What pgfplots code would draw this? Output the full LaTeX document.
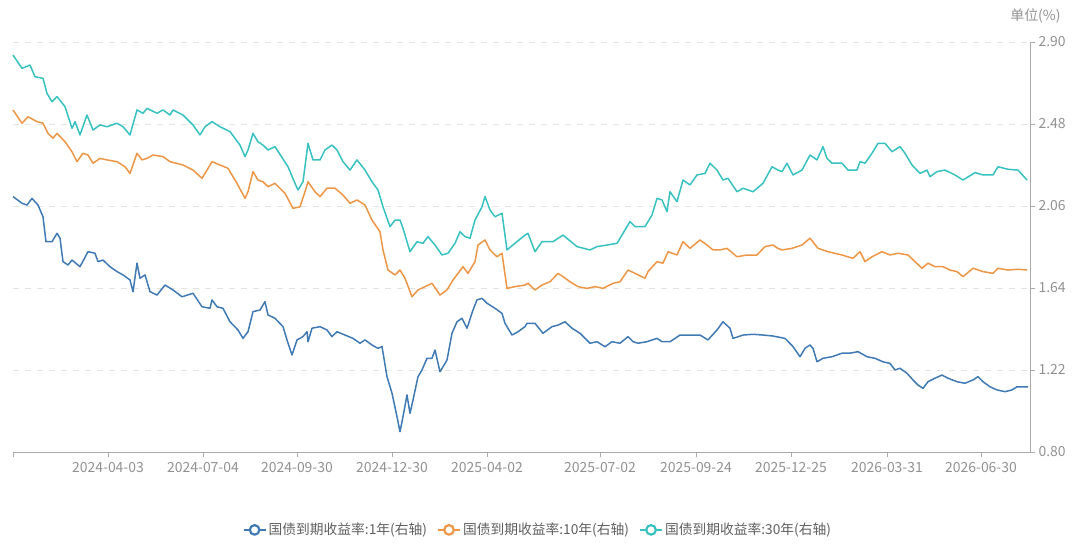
\documentclass[border=0pt]{standalone}
\usepackage{fontspec}
\setmainfont{Noto Sans CJK SC}
\usepackage{pgfplots}
\usepackage{pgfplotstable}
\pgfplotsset{compat=1.18}
\definecolor{c1}{RGB}{64,122,180}
\definecolor{c2}{RGB}{237,150,70}
\definecolor{c3}{RGB}{55,193,192}
\definecolor{tk}{RGB}{145,145,145}
\definecolor{ax}{RGB}{170,170,170}
\definecolor{gr}{RGB}{228,228,228}
\definecolor{lg}{RGB}{95,95,95}

\pgfplotstableread{
x y
0 2.108
9 2.074
14 2.065
19 2.099
25 2.065
30 2.005
33 1.877
39 1.877
44 1.920
47 1.895
50 1.775
55 1.758
59 1.783
67 1.749
75 1.826
82 1.818
85 1.775
90 1.783
97 1.749
104 1.724
110 1.707
117 1.681
120 1.621
124 1.767
127 1.690
132 1.707
137 1.621
144 1.604
152 1.655
160 1.630
169 1.595
180 1.613
189 1.544
197 1.536
199 1.579
204 1.544
210 1.536
217 1.467
225 1.425
230 1.382
235 1.416
240 1.519
247 1.527
252 1.570
255 1.502
262 1.485
270 1.442
274 1.374
279 1.297
284 1.374
290 1.391
294 1.416
295 1.365
299 1.434
307 1.442
314 1.425
319 1.391
324 1.416
332 1.399
340 1.382
347 1.357
352 1.374
359 1.348
365 1.331
369 1.340
374 1.186
379 1.101
384 0.981
387 0.904
390 0.981
394 1.092
397 0.998
400 1.066
405 1.186
409 1.220
414 1.280
419 1.280
422 1.322
427 1.211
434 1.271
439 1.408
444 1.467
449 1.485
454 1.434
460 1.527
464 1.579
469 1.587
474 1.562
482 1.536
489 1.510
492 1.459
499 1.399
505 1.416
512 1.442
514 1.459
522 1.459
530 1.408
539 1.442
545 1.450
552 1.467
559 1.434
567 1.408
577 1.357
584 1.365
592 1.339
599 1.365
607 1.357
615 1.391
620 1.365
625 1.357
634 1.365
644 1.382
649 1.365
657 1.365
667 1.399
677 1.399
687 1.399
695 1.374
704 1.425
710 1.467
717 1.434
720 1.382
730 1.399
740 1.403
750 1.399
760 1.394
772 1.382
780 1.340
787 1.288
792 1.331
797 1.348
800 1.331
804 1.262
810 1.280
819 1.288
829 1.306
837 1.306
845 1.314
854 1.288
862 1.280
870 1.262
877 1.254
882 1.220
887 1.229
894 1.203
900 1.169
905 1.143
910 1.126
915 1.160
922 1.178
929 1.194
935 1.178
944 1.160
952 1.152
960 1.169
965 1.186
970 1.160
977 1.134
984 1.118
992 1.109
999 1.118
1004 1.134
1010 1.134
1015 1.134
}\oneyr

\pgfplotstableread{
x y
0 2.552
9 2.484
15 2.517
24 2.492
30 2.484
35 2.432
40 2.407
44 2.432
52 2.389
59 2.338
64 2.287
70 2.330
75 2.321
80 2.279
87 2.304
94 2.296
104 2.287
112 2.261
117 2.227
124 2.330
129 2.296
134 2.304
140 2.321
150 2.313
157 2.287
170 2.270
180 2.244
189 2.202
194 2.244
199 2.287
207 2.270
215 2.253
224 2.176
232 2.099
235 2.133
240 2.236
245 2.193
250 2.184
255 2.159
262 2.176
272 2.125
280 2.048
287 2.056
292 2.133
295 2.184
302 2.133
307 2.108
314 2.151
322 2.151
330 2.116
337 2.074
344 2.091
352 2.065
359 1.988
367 1.928
370 1.835
375 1.732
382 1.707
387 1.732
392 1.690
399 1.595
405 1.630
412 1.647
419 1.664
427 1.604
434 1.630
440 1.681
445 1.715
450 1.749
455 1.715
462 1.775
465 1.860
472 1.886
477 1.835
484 1.800
489 1.818
494 1.638
502 1.647
512 1.655
515 1.664
522 1.630
529 1.655
537 1.672
545 1.715
550 1.698
557 1.672
565 1.647
574 1.638
582 1.647
590 1.638
600 1.664
607 1.672
615 1.732
622 1.715
632 1.690
635 1.724
644 1.775
650 1.767
655 1.826
664 1.809
670 1.877
677 1.843
687 1.886
694 1.860
700 1.835
707 1.835
714 1.843
724 1.800
734 1.809
744 1.809
752 1.852
760 1.860
765 1.843
769 1.835
779 1.843
789 1.860
797 1.895
805 1.843
815 1.826
829 1.809
840 1.792
847 1.826
852 1.775
859 1.800
869 1.826
877 1.809
885 1.818
895 1.809
902 1.775
909 1.741
915 1.767
922 1.749
930 1.749
937 1.732
944 1.724
950 1.698
960 1.741
970 1.724
980 1.715
985 1.741
995 1.732
1005 1.736
1014 1.732
}\tenyr

\pgfplotstableread{
x y
0 2.833
9 2.765
17 2.782
22 2.722
30 2.714
34 2.637
39 2.594
44 2.620
52 2.569
59 2.458
62 2.492
67 2.424
74 2.526
80 2.449
87 2.475
94 2.466
104 2.484
110 2.466
117 2.424
124 2.552
130 2.535
134 2.560
144 2.535
150 2.552
157 2.526
160 2.552
170 2.526
180 2.475
187 2.424
192 2.466
199 2.492
207 2.466
217 2.441
227 2.372
232 2.313
235 2.347
240 2.432
245 2.389
250 2.372
255 2.347
262 2.364
275 2.261
282 2.176
285 2.142
290 2.184
295 2.381
300 2.296
307 2.296
312 2.347
319 2.372
324 2.347
330 2.287
337 2.244
344 2.296
352 2.244
359 2.184
365 2.142
370 2.056
377 1.954
382 1.988
387 1.988
390 1.946
397 1.826
404 1.877
410 1.869
415 1.903
422 1.860
429 1.809
435 1.818
442 1.869
447 1.928
452 1.903
457 1.895
462 1.988
469 2.056
472 2.108
477 2.040
482 2.005
489 2.023
494 1.835
502 1.869
512 1.911
515 1.920
522 1.826
529 1.877
540 1.877
550 1.911
564 1.852
577 1.835
584 1.852
594 1.860
604 1.869
610 1.920
617 1.980
622 1.954
632 1.954
639 2.014
644 2.099
649 2.091
654 2.031
657 2.133
664 2.082
670 2.193
677 2.168
684 2.219
692 2.227
697 2.279
704 2.244
710 2.193
715 2.202
724 2.133
730 2.151
740 2.133
750 2.176
759 2.261
765 2.244
769 2.236
774 2.279
780 2.219
789 2.244
797 2.321
804 2.296
810 2.364
814 2.304
819 2.279
829 2.279
835 2.244
844 2.244
847 2.287
852 2.279
859 2.330
865 2.381
872 2.381
879 2.338
887 2.364
892 2.330
899 2.270
907 2.227
914 2.244
917 2.210
924 2.236
932 2.244
942 2.219
950 2.193
962 2.231
970 2.219
980 2.219
985 2.261
995 2.248
1005 2.244
1014 2.193
}\thirtyyr

\begin{document}
\begin{tikzpicture}
\useasboundingbox (0,0) rectangle (1080bp,548bp);
\begin{axis}[
  at={(13bp,96bp)}, anchor=south west,
  scale only axis, width=1017bp, height=410bp,
  xmin=0, xmax=1017, ymin=0.80, ymax=2.90,
  axis x line=bottom, axis y line=right,
  axis line style={-, draw=ax, line width=0.8bp},
  tick align=outside, major tick length=5bp,
  tick style={draw=ax, line width=0.8bp},
  xtick={0,95,190,284,379,474,587,683,778,874,968},
  xticklabels={,2024-04-03,2024-07-04,2024-09-30,2024-12-30,2025-04-02,2025-07-02,2025-09-24,2025-12-25,2026-03-31,2026-06-30},
  ytick={0.80,1.22,1.64,2.06,2.48,2.90},
  yticklabels={0.80,1.22,1.64,2.06,2.48,2.90},
  ymajorgrids, grid style={draw=gr, dash pattern=on 6bp off 6bp, line width=0.8bp},
  ticklabel style={font=\fontsize{14}{16}\selectfont, text=tk},
  xticklabel style={yshift=-2bp},
  yticklabel style={xshift=0bp},
  legend columns=3,
  legend style={at={(0.516,-0.19)}, anchor=center, draw=none, fill=none,
    font=\fontsize{13.8}{16}\selectfont, text=lg,
    /tikz/every even column/.append style={column sep=8bp}},
  legend image code/.code={
    \draw[#1, line width=2.2bp] (0bp,0bp) -- (22bp,0bp);
    \draw[#1, line width=2.2bp, fill=white] (11bp,0bp) circle (4.8bp);
  },
  clip=false,
]
\addplot[c1, line width=1.5bp, line join=round] table[x=x, y=y] {\oneyr};
\addlegendentry{国债到期收益率:1年(右轴)}
\addplot[c2, line width=1.5bp, line join=round] table[x=x, y=y] {\tenyr};
\addlegendentry{国债到期收益率:10年(右轴)}
\addplot[c3, line width=1.5bp, line join=round] table[x=x, y=y] {\thirtyyr};
\addlegendentry{国债到期收益率:30年(右轴)}
\node[anchor=east, text=tk, font=\fontsize{14}{16}\selectfont, xshift=34bp, yshift=26bp] at (rel axis cs:1,1) {单位(\%)};
\end{axis}
\end{tikzpicture}
\end{document}
